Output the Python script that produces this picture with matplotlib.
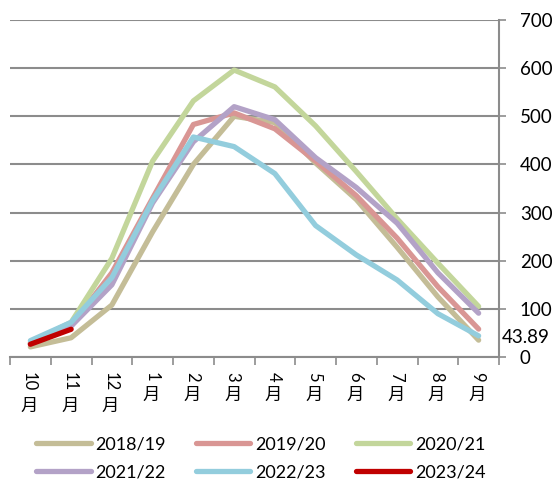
import matplotlib
matplotlib.use("Agg")
import matplotlib.pyplot as plt
from matplotlib.lines import Line2D

months = ['10', '11', '12', '1', '2', '3', '4', '5', '6', '7', '8', '9']
seasons = ['2018/19', '2019/20', '2020/21', '2021/22', '2022/23', '2023/24']

s2018 = [21, 40, 108, 260, 400, 500, 487, 403, 327, 228, 125, 35]
s2019 = [28, 65, 175, 330, 483, 507, 474, 407, 335, 247, 146, 58]
s2020 = [30, 72, 205, 407, 532, 596, 561, 480, 385, 287, 195, 105]
s2021 = [27, 64, 150, 320, 447, 520, 493, 414, 352, 278, 175, 91]
s2022 = [34, 72, 165, 325, 457, 437, 381, 273, 212, 160, 90, 43.89]
s2023 = [26.5, 57.6]

colors = ['#C4BD97', '#D99694', '#C3D69B', '#B3A2C7', '#93CDDD', '#C00000']
series = [s2018, s2019, s2020, s2021, s2022, s2023]

W, H, DPI = 554, 482, 100
fig = plt.figure(figsize=(W / DPI, H / DPI), dpi=DPI)
ax = fig.add_axes([10 / W, 1 - 357 / H, (499 - 10) / W, (357 - 20) / H])

grid_c = '#8C8C8C'
lw = 3.8
for vals, c, name in zip(series, colors, seasons):
    ax.plot(range(len(vals)), vals, color=c, lw=lw, solid_capstyle='round',
            solid_joinstyle='round', label=name, zorder=3)

# data label for the last point of 2022/23
ax.annotate(f'{s2022[-1]:.2f}', xy=(len(s2022) - 1, s2022[-1]), xytext=(17, -1),
            textcoords='offset points', ha='left', va='center',
            fontsize=13.5, family='Lato', color='black', annotation_clip=False)

ax.set_xlim(-0.5, len(months) - 0.5)
ax.set_ylim(0, 700)
ax.set_yticks(range(0, 701, 100))
ax.yaxis.tick_right()
ax.tick_params(axis='y', which='both', direction='out', length=5, width=1.2,
               color=grid_c, pad=10, labelsize=13.5)
for t in ax.get_yticklabels():
    t.set_family('Lato')
ax.yaxis.grid(True, color=grid_c, lw=1.5)
ax.set_axisbelow(True)

ax.set_xticks([i - 0.5 for i in range(len(months) + 1)])
ax.set_xticklabels([])
ax.tick_params(axis='x', direction='out', length=6, width=1.2, color=grid_c)

for side in ['left', 'top']:
    ax.spines[side].set_visible(False)
for side in ['right', 'bottom']:
    ax.spines[side].set_color(grid_c)
    ax.spines[side].set_linewidth(1.5)

# month labels: numerals turned sideways, 月 kept upright underneath
px = 72 / DPI
for i, m in enumerate(months):
    ax.annotate(m, xy=(i, 0), xycoords=('data', 'axes fraction'),
                xytext=(-1, -15 * px), textcoords='offset points',
                rotation=-90, ha='center', va='top', fontsize=12,
                family='Lato', annotation_clip=False)
    ax.annotate('月', xy=(i, 0), xycoords=('data', 'axes fraction'),
                xytext=(-1, -(18 + 11 * len(m)) * px), textcoords='offset points',
                ha='center', va='top', fontsize=12.5,
                family='Noto Sans CJK SC', annotation_clip=False)

handles = [Line2D([], [], color=c, lw=lw, solid_capstyle='round') for c in colors]
order = [0, 3, 1, 4, 2, 5]
fig.legend([handles[k] for k in order], [seasons[k] for k in order],
           ncol=3, loc='center', bbox_to_anchor=(0.471, 0.049),
           frameon=False, prop={'family': 'Lato', 'size': 13},
           handlelength=3.0, handletextpad=0.25, columnspacing=1.7,
           labelspacing=0.68, borderpad=0.2)

fig.savefig('out.png', dpi=DPI)
